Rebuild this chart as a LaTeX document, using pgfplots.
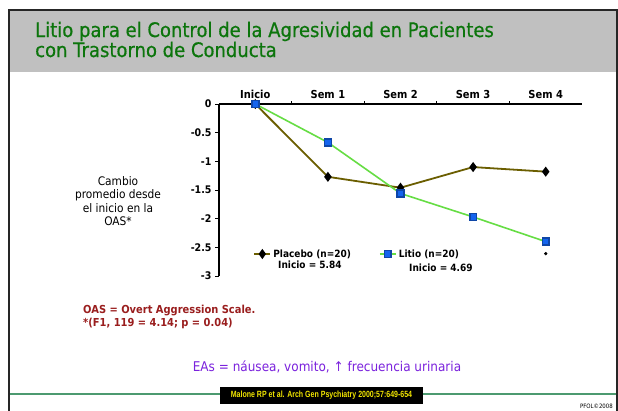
\documentclass[border=0pt]{standalone}
\usepackage{fontspec}
\setmainfont{DejaVu Sans}[FakeStretch=0.9]
\newfontfamily\titlefont{DejaVu Sans}[FakeStretch=0.9, FakeBold=0.6]
\newfontfamily\arialbf{Liberation Sans}[FakeStretch=0.78]
\usepackage{pgfplots}
\pgfplotsset{compat=1.18}

\definecolor{titlegreen}{HTML}{0C750C}
\definecolor{bandgray}{HTML}{C0C0C0}
\definecolor{notered}{HTML}{9A1E1E}
\definecolor{eapurple}{HTML}{7B22DD}
\definecolor{rulegreen}{HTML}{4C9A70}
\definecolor{placebo}{HTML}{6B5E00}
\definecolor{litio}{HTML}{66DD44}
\definecolor{litioblue}{HTML}{1464EE}
\definecolor{citeyellow}{HTML}{F2E600}

\begin{document}
\begin{tikzpicture}[x=1pt,y=1pt]
\useasboundingbox (0,0) rectangle (618,-410);
\fill[white] (0,0) rectangle (618,-410);

% slide frame and title band
\fill[bandgray] (9,-10) rectangle (617,-72);
\draw[line width=2pt, black!85] (9,-412) -- (9,-10) -- (617,-10) -- (617,-412);
\node[anchor=base west, inner sep=0, text=titlegreen, font=\titlefont\fontsize{20}{22}\selectfont] at (35,-37) {Litio para el Control de la Agresividad en Pacientes};
\node[anchor=base west, inner sep=0, text=titlegreen, font=\titlefont\fontsize{20}{22}\selectfont] at (35,-57) {con Trastorno de Conducta};

% y label
\node[align=center, font=\fontsize{11.8}{13.6}\selectfont, inner sep=0] at (118,-201) {Cambio\\promedio desde\\el inicio en la\\OAS*};

\begin{axis}[
    at={(219pt,-276pt)}, anchor=south west,
    scale only axis, width=363pt, height=172pt,
    xmin=-0.5, xmax=4.5, ymin=-3, ymax=0,
    axis x line=top, axis y line=left,
    axis line style={-, line width=1.6pt, black},
    xtick={0,1,2,3,4},
    xticklabels={Inicio,Sem 1,Sem 2,Sem 3,Sem 4},
    xticklabel style={font=\bfseries\fontsize{11}{12}\selectfont, yshift=-2pt},
    major x tick style={draw=none},
    minor xtick={0.5,1.5,2.5,3.5},
    minor tick length=3pt,
    ytick={-3,-2.5,-2,-1.5,-1,-0.5,0},
    yticklabels={-3,-2.5,-2,-1.5,-1,-0.5,0},
    yticklabel style={font=\bfseries\fontsize{10.5}{11}\selectfont},
    tick align=outside, major tick length=4pt,
    tick style={black, line width=0.8pt},
    clip=false,
    legend columns=2,
    legend style={draw=none, fill=none, inner sep=0pt, at={(0.094,0.128)}, anchor=west,
        font=\bfseries\fontsize{10}{11}\selectfont,
        /tikz/every even column/.append style={column sep=26pt}},
    legend image post style={xscale=0.95},
]
\addplot[placebo, line width=1.8pt, mark=diamond*, mark size=3.6pt,
    mark options={black, fill=black}]
    coordinates {(0,0) (1,-1.27) (2,-1.46) (3,-1.10) (4,-1.18)};
\addlegendentry{Placebo (n=20)}
\addplot[litio, line width=1.6pt, mark=square*, mark size=3.4pt,
    mark options={draw=litioblue!70!black, fill=litioblue}]
    coordinates {(0,0) (1,-0.67) (2,-1.56) (3,-1.97) (4,-2.40)};
\addlegendentry{Litio (n=20)}
\addplot[only marks, mark=*, mark size=1.5pt, black, forget plot]
    coordinates {(4,-2.61)};
\node[anchor=west, inner sep=0, font=\bfseries\fontsize{10}{11}\selectfont] at (axis cs:0.313,-2.81) {Inicio = 5.84};
\node[anchor=west, inner sep=0, font=\bfseries\fontsize{10}{11}\selectfont] at (axis cs:2.117,-2.86) {Inicio = 4.69};
\end{axis}

% notes
\node[anchor=base west, inner sep=0, text=notered, font=\bfseries\fontsize{11}{12}\selectfont] at (83,-313) {OAS = Overt Aggression Scale.};
\node[anchor=base west, inner sep=0, text=notered, font=\bfseries\fontsize{11}{12}\selectfont] at (83,-326) {*(F1, 119 = 4.14; p = 0.04)};
\node[inner sep=0, text=eapurple, font=\fontsize{13.4}{14}\selectfont] at (327,-367) {EAs = náusea, vomito, ↑ frecuencia urinaria};

% bottom rule and citation
\draw[line width=2pt, rulegreen] (10,-394) -- (616,-394);
\fill[black] (220,-387) rectangle (423,-404);
\node[inner sep=0, text=citeyellow, font=\arialbf\bfseries\fontsize{9}{10}\selectfont] at (321.5,-395.5) {Malone RP et al. Arch Gen Psychiatry 2000;57:649-654};
\node[anchor=south east, inner sep=0, font=\fontsize{6}{7}\selectfont] at (613,-408.5) {PFOL©2008};
\end{tikzpicture}
\end{document}
